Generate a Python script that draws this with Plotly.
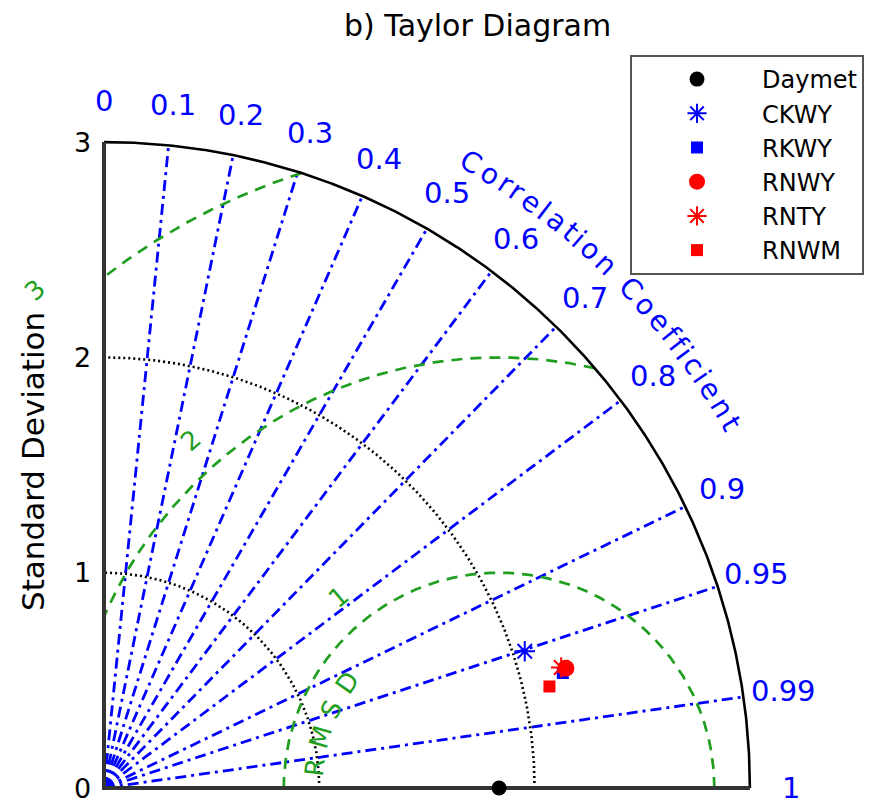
import numpy as np
import plotly.graph_objects as go

# ---------------- data ----------------
models = ["Daymet", "CKWY", "RKWY", "RNWY", "RNTY", "RNWM"]
std_dev = [1.835, 2.055, 2.197, 2.216, 2.196, 2.122]
corr_coef = [1.0, 0.951, 0.970, 0.968, 0.967, 0.975]
model_colors = ["black", "blue", "blue", "red", "red", "red"]
model_symbols = ["circle", "asterisk-open", "square", "circle", "asterisk-open", "square"]
model_sizes = [15, 17, 12, 17, 17, 12]

corr_ticks = [0.0, 0.1, 0.2, 0.3, 0.4, 0.5, 0.6, 0.7, 0.8, 0.9, 0.95, 0.99, 1.0]
corr_tick_labels = ["0", "0.1", "0.2", "0.3", "0.4", "0.5", "0.6", "0.7", "0.8", "0.9", "0.95", "0.99", "1"]
corr_lines = [0.1, 0.2, 0.3, 0.4, 0.5, 0.6, 0.7, 0.8, 0.9, 0.95, 0.99]
std_ticks = [0, 1, 2, 3]
std_tick_labels = ["0", "1", "2", "3"]
std_arcs = [1, 2]
std_max = 3
rmsd_levels = [1, 2, 3]
rmsd_labels = ["1", "2", "3"]

BLUE = "#0000ff"
GREEN = "#1f9e1f"
FONT = "DejaVu Sans"

ref_std = std_dev[0]

fig = go.Figure()

# correlation rays
for c in corr_lines:
    th = np.arccos(c)
    fig.add_trace(go.Scatter(x=[0, std_max * np.cos(th)], y=[0, std_max * np.sin(th)],
                             mode="lines", line=dict(color=BLUE, width=2.8, dash="11px,5px,3px,5px"),
                             showlegend=False, hoverinfo="skip"))

# std dotted arcs
t = np.linspace(0, np.pi / 2, 400)
for s in std_arcs:
    fig.add_trace(go.Scatter(x=s * np.cos(t), y=s * np.sin(t), mode="lines",
                             line=dict(color="black", width=2.6, dash="2px,3px"),
                             showlegend=False, hoverinfo="skip"))

# RMSD circles
phi = np.linspace(0, np.pi, 3000)
for L in rmsd_levels:
    x = ref_std + L * np.cos(phi)
    y = L * np.sin(phi)
    mask = (x >= 0) & (x ** 2 + y ** 2 <= std_max ** 2)
    fig.add_trace(go.Scatter(x=x[mask], y=y[mask], mode="lines",
                             line=dict(color=GREEN, width=2.7, dash="11px,8px"),
                             showlegend=False, hoverinfo="skip"))

# outer arc and axes
fig.add_trace(go.Scatter(x=std_max * np.cos(t), y=std_max * np.sin(t), mode="lines",
                         line=dict(color="black", width=2.6), showlegend=False, hoverinfo="skip"))
fig.add_trace(go.Scatter(x=[0, 0, std_max], y=[std_max, 0, 0], mode="lines",
                         line=dict(color="#333333", width=4), showlegend=False, hoverinfo="skip"))

# model points
for name, s, c, col, sym, sz in zip(models, std_dev, corr_coef, model_colors, model_symbols, model_sizes):
    th = np.arccos(c)
    fig.add_trace(go.Scatter(x=[s * np.cos(th)], y=[s * np.sin(th)], mode="markers", name=name,
                             marker=dict(color=col, symbol=sym, size=sz,
                                         line=dict(color=col, width=2 if "asterisk" in sym else 0)),
                             hoverinfo="skip"))

ann = []
# correlation tick labels
for c, lab in zip(corr_ticks, corr_tick_labels):
    th = np.arccos(c)
    r = 3.19
    ann.append(dict(x=r * np.cos(th), y=r * np.sin(th), text=lab, showarrow=False,
                    xanchor="center", yanchor="middle", font=dict(size=29, color=BLUE, family=FONT)))

# std tick labels
for v, lab in zip(std_ticks, std_tick_labels):
    ann.append(dict(x=-0.05, y=v, text=lab, showarrow=False, xanchor="right", yanchor="middle",
                    font=dict(size=27, color="black", family=FONT)))

# curved "Correlation Coefficient"
label = "Correlation Coefficient"
cw = {"C": .698, "o": .612, "r": .411, "e": .615, "l": .278, "a": .613, "t": .392,
      "i": .278, "n": .634, " ": .318, "f": .352, "c": .550}
widths = np.array([cw.get(ch, 0.6) for ch in label])
cent = np.cumsum(widths) - widths / 2
cent = (cent - cent[0]) / (cent[-1] - cent[0])
a0, a1 = np.radians(59.6), np.radians(30.2)
r_lab = 3.37
for ch, f in zip(label, cent):
    if ch == " ":
        continue
    ang = a0 + (a1 - a0) * f
    ann.append(dict(x=r_lab * np.cos(ang), y=r_lab * np.sin(ang), text=ch, showarrow=False,
                    xanchor="center", yanchor="middle", textangle=90 - np.degrees(ang),
                    font=dict(size=28, color=BLUE, family=FONT)))

# RMSD level labels
for L, lab in zip(rmsd_levels, rmsd_labels):
    ph = np.radians(130 + (L - 1) * 1.5)
    rr = L + 0.16
    ann.append(dict(x=ref_std + rr * np.cos(ph), y=rr * np.sin(ph), text=lab, showarrow=False,
                    xanchor="center", yanchor="middle", textangle=-(np.degrees(ph) - 90),
                    font=dict(size=26, color=GREEN, family=FONT)))

# "RMSD" along circle
for i, ch in enumerate("RMSD"):
    ph = np.radians(173.6 - i * 9.43)
    rr = 0.86
    ann.append(dict(x=ref_std + rr * np.cos(ph), y=rr * np.sin(ph), text=ch, showarrow=False,
                    xanchor="center", yanchor="middle", textangle=-(np.degrees(ph) - 90),
                    font=dict(size=26, color=GREEN, family=FONT)))

# title and y label
ann.append(dict(xref="paper", yref="paper", x=477 / 882, y=1 - 25 / 806, text="b) Taylor Diagram",
                showarrow=False, xanchor="center", yanchor="middle",
                font=dict(size=30, color="black", family=FONT)))
ann.append(dict(xref="paper", yref="paper", x=33 / 882, y=1 - 462 / 806, text="Standard Deviation",
                showarrow=False, xanchor="center", yanchor="middle", textangle=-90,
                font=dict(size=31, color="black", family=FONT)))

W, H = 882, 806
scale = 215.3
ox, oy = 104, 788

fig.update_layout(
    width=W, height=H, autosize=False,
    margin=dict(l=0, r=0, t=0, b=0, pad=0, autoexpand=False),
    paper_bgcolor="white", plot_bgcolor="white",
    xaxis=dict(range=[-ox / scale, (W - ox) / scale], visible=False, fixedrange=True),
    yaxis=dict(range=[-(H - oy) / scale, oy / scale], visible=False, fixedrange=True),
    annotations=ann,
    legend=dict(x=630 / W, y=1 - 55 / H, xanchor="left", yanchor="top", bgcolor="white",
                bordercolor="#555555", borderwidth=2, itemwidth=120, tracegroupgap=0,
                font=dict(size=24, color="black", family=FONT)),
    showlegend=True,
)

fig.write_html("out.html")
